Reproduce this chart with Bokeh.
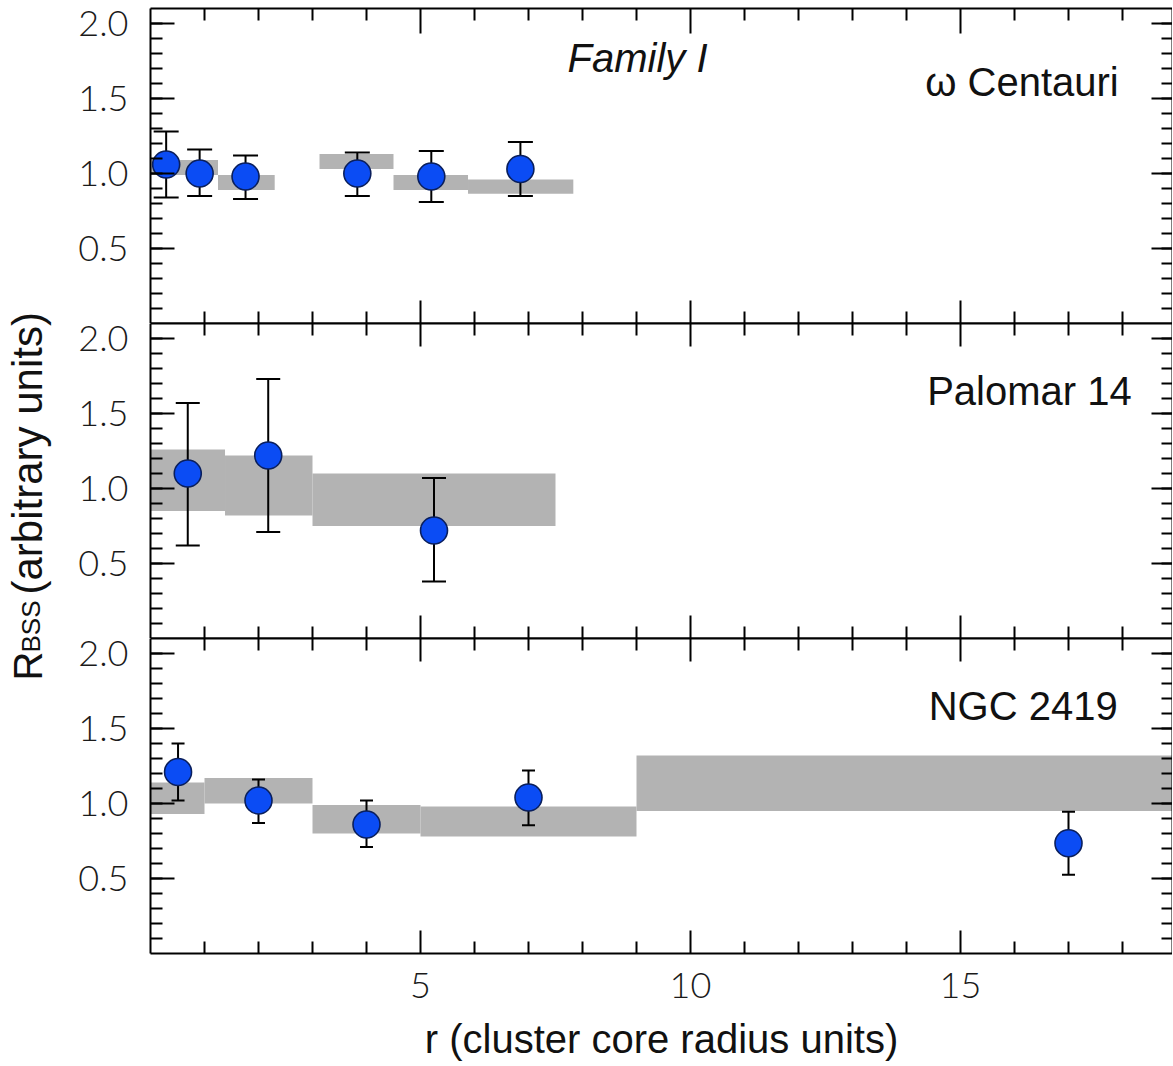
import numpy as np
from bokeh.plotting import figure
from bokeh.models import (LinearAxis, FixedTicker, Range1d, Label, Grid,
                          CustomLabelingPolicy)
from bokeh.layouts import column, row
from bokeh.embed import file_html
from bokeh.resources import INLINE

# ---------------- data ----------------
# omega Centauri
omega_r = [0.29, 0.91, 1.76, 3.83, 5.20, 6.85]
omega_R = [1.06, 1.00, 0.98, 1.00, 0.98, 1.03]
omega_lo = [0.84, 0.85, 0.83, 0.85, 0.81, 0.85]
omega_hi = [1.28, 1.16, 1.12, 1.14, 1.15, 1.21]
omega_bin_lo = [0.0, 1.25, 3.13, 4.50, 5.88]
omega_bin_hi = [1.25, 2.30, 4.50, 5.88, 7.83]
omega_band_lo = [0.99, 0.89, 1.03, 0.89, 0.865]
omega_band_hi = [1.09, 0.99, 1.13, 0.99, 0.96]

# Palomar 14
pal_r = [0.69, 2.18, 5.25]
pal_R = [1.10, 1.22, 0.72]
pal_lo = [0.62, 0.71, 0.38]
pal_hi = [1.57, 1.73, 1.07]
pal_bin_lo = [0.0, 1.38, 3.0]
pal_bin_hi = [1.38, 3.0, 7.5]
pal_band_lo = [0.85, 0.82, 0.75]
pal_band_hi = [1.26, 1.22, 1.10]

# NGC 2419
ngc_r = [0.51, 2.0, 4.0, 7.0, 17.0]
ngc_R = [1.21, 1.02, 0.86, 1.04, 0.735]
ngc_lo = [1.02, 0.87, 0.71, 0.855, 0.525]
ngc_hi = [1.40, 1.16, 1.02, 1.22, 0.945]
ngc_bin_lo = [0.0, 1.0, 3.0, 5.0, 9.0]
ngc_bin_hi = [1.0, 3.0, 5.0, 9.0, 19.0]
ngc_band_lo = [0.93, 1.00, 0.80, 0.78, 0.95]
ngc_band_hi = [1.14, 1.17, 0.99, 0.98, 1.32]

x_major = [5, 10, 15]
x_minor = [i for i in range(1, 19) if i not in x_major]
y_major = [0.5, 1.0, 1.5, 2.0]
y_minor = [round(0.1 * i, 1) for i in range(1, 21)]

FONT = "Liberation Sans"
TICK_FONT = "Lato Light, Lato"
X_END = 1022 / 54.0
OVERLAP = 22  # extra canvas space above panels 2 and 3, overlapping the panel above

NO_LABELS = """
try { for (let i = 0; i < indices.size; i++) { indices.unset(i) } } catch (e) {}
return indices
"""

def style_axis(ax, maj, mnr):
    ax.major_tick_in = maj
    ax.major_tick_out = 0
    ax.minor_tick_in = mnr
    ax.minor_tick_out = 0
    ax.axis_line_width = 2
    ax.major_tick_line_width = 2
    ax.minor_tick_line_width = 2
    ax.axis_line_color = "black"
    ax.major_tick_line_color = "black"
    ax.minor_tick_line_color = "black"

def hide_labels(ax):
    ax.major_label_text_font_size = "0px"
    ax.major_label_standoff = 0
    ax.major_label_policy = CustomLabelingPolicy(code=NO_LABELS)

def xaxis(labels=False, maj=23, mnr=12):
    ax = LinearAxis(ticker=FixedTicker(ticks=x_major, minor_ticks=x_minor))
    style_axis(ax, maj, mnr)
    if labels:
        ax.major_label_text_font_size = "36px"
        ax.major_label_text_font = TICK_FONT
        ax.major_label_text_color = "#1a1a1a"
        ax.major_label_standoff = 19
        ax.axis_label = "r (cluster core radius units)"
        ax.axis_label_text_font_size = "40px"
        ax.axis_label_text_font = FONT
        ax.axis_label_text_font_style = "normal"
        ax.axis_label_text_color = "#111111"
        ax.axis_label_standoff = 16
    else:
        hide_labels(ax)
    return ax

def yaxis(labels=False, maj=24, mnr=12):
    ax = LinearAxis(ticker=FixedTicker(ticks=y_major, minor_ticks=y_minor))
    style_axis(ax, maj, mnr)
    if labels:
        ax.major_label_text_font_size = "36px"
        ax.major_label_text_font = TICK_FONT
        ax.major_label_text_color = "#1a1a1a"
        ax.major_label_standoff = 22
        ax.major_label_overrides = {0.5: "0.5", 1.0: "1.0", 1.5: "1.5", 2.0: "2.0"}
    else:
        hide_labels(ax)
    return ax

def panel(r, R, lo, hi, blo, bhi, bandlo, bandhi, cap, bottom=False, top=False):
    p = figure(frame_width=1022, frame_height=315,
               x_range=Range1d(0, X_END), y_range=Range1d(0, 2.1),
               x_axis_location=None, y_axis_location=None,
               toolbar_location=None, output_backend="svg",
               min_border_left=82, min_border_right=0,
               min_border_top=8 if top else OVERLAP, min_border_bottom=0,
               outline_line_color=None, background_fill_color="white",
               border_fill_color="white", border_fill_alpha=1.0 if top else 0.0)
    if not top:
        p.margin = (-OVERLAP, 0, 0, 0)
    for g in list(p.center):
        if isinstance(g, Grid):
            g.visible = False
    p.quad(left=blo, right=bhi, bottom=bandlo, top=bandhi,
           fill_color="#b3b3b3", line_color=None)
    p.segment(x0=r, y0=lo, x1=r, y1=hi, line_color="black", line_width=2)
    p.scatter(x=r, y=lo, marker="dash", size=cap, line_color="black", line_width=2)
    p.scatter(x=r, y=hi, marker="dash", size=cap, line_color="black", line_width=2)
    p.scatter(x=r, y=R, marker="circle", size=27, fill_color="#0b4cf4",
              line_color="#0a1f5c", line_width=1.6)
    p.add_layout(yaxis(labels=True), "left")
    p.add_layout(yaxis(labels=False, maj=21, mnr=11), "right")
    p.add_layout(xaxis(labels=False, maj=25 if top else 23), "above")
    p.add_layout(xaxis(labels=bottom), "below")
    return p

p1 = panel(omega_r, omega_R, omega_lo, omega_hi, omega_bin_lo, omega_bin_hi,
           omega_band_lo, omega_band_hi, cap=25, top=True)
p2 = panel(pal_r, pal_R, pal_lo, pal_hi, pal_bin_lo, pal_bin_hi,
           pal_band_lo, pal_band_hi, cap=24)
p3 = panel(ngc_r, ngc_R, ngc_lo, ngc_hi, ngc_bin_lo, ngc_bin_hi,
           ngc_band_lo, ngc_band_hi, cap=13, bottom=True)

p1.add_layout(Label(x=17.93, y=1.607, text="ω Centauri", text_align="right",
                    text_baseline="middle", text_font_size="40px", text_font=FONT,
                    text_color="#111111"))
p1.add_layout(Label(x=9.02, y=1.773, text="Family I", text_align="center",
                    text_baseline="middle", text_font_size="40px", text_font=FONT,
                    text_font_style="italic", text_color="#111111"))
p2.add_layout(Label(x=18.17, y=1.653, text="Palomar 14", text_align="right",
                    text_baseline="middle", text_font_size="40px", text_font=FONT,
                    text_color="#111111"))
p3.add_layout(Label(x=17.91, y=1.653, text="NGC 2419", text_align="right",
                    text_baseline="middle", text_font_size="40px", text_font=FONT,
                    text_color="#111111"))

# y-axis title drawn on a narrow companion canvas (coordinates = canvas pixels)
LW, LH = 68, 955
lf = figure(width=LW, height=LH, x_range=Range1d(0, LW), y_range=Range1d(LH, 0),
            x_axis_location=None, y_axis_location=None, toolbar_location=None,
            output_backend="svg", min_border=0, outline_line_color=None)
for g in list(lf.center):
    if isinstance(g, Grid):
        g.visible = False
LX = 27
lf.add_layout(Label(x=LX, y=680, text="R", angle=np.pi / 2, text_align="left",
                    text_baseline="alphabetic", text_font_size="40px", text_font=FONT,
                    text_color="#111111"))
lf.add_layout(Label(x=LX + 3, y=652, text="BSS", angle=np.pi / 2, text_align="left",
                    text_baseline="alphabetic", text_font_size="26px", text_font=FONT,
                    text_color="#111111"))
lf.add_layout(Label(x=LX, y=594, text="(arbitrary units)", angle=np.pi / 2,
                    text_align="left", text_baseline="alphabetic",
                    text_font_size="42px", text_font=FONT, text_color="#111111"))

layout = row(lf, column(p1, p2, p3, spacing=0), spacing=0)

open("out.html", "w").write(file_html(layout, INLINE))
